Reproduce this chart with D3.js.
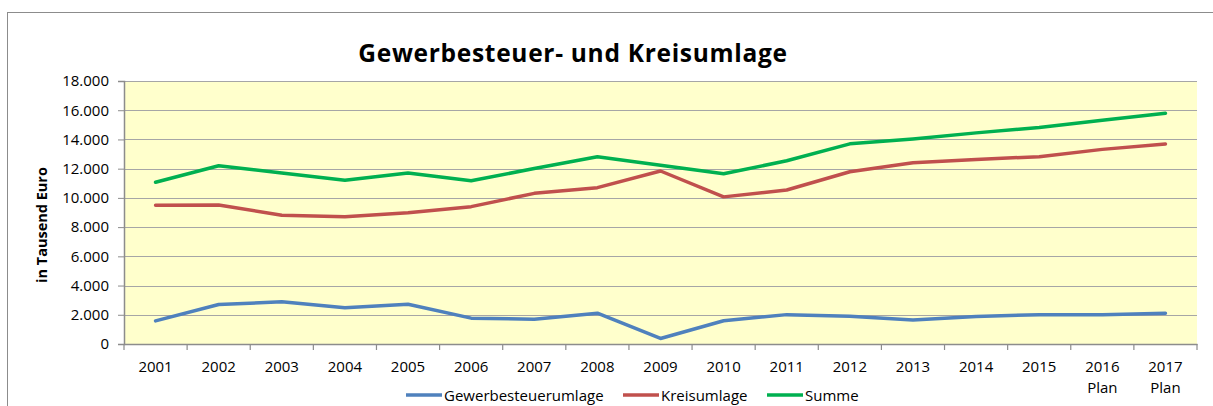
<!DOCTYPE html>
<html lang="de">
<head>
    <meta charset="UTF-8">
    <title>Gewerbesteuer- und Kreisumlage</title>
    <script src="https://d3js.org/d3.v7.min.js"></script>
    <style>
        body { margin: 0; background: #fff; }
        text { font-family: "Open Sans", sans-serif; fill: #000; }
    </style>
</head>
<body>
    <script>
        // data (in Tausend Euro)
        var years = ['2001', '2002', '2003', '2004', '2005', '2006', '2007', '2008', '2009',
                     '2010', '2011', '2012', '2013', '2014', '2015', '2016 Plan', '2017 Plan'];
        var gewerbesteuerumlage = [1580, 2700, 2890, 2480, 2720, 1770, 1700, 2110, 380,
                                   1590, 2010, 1900, 1640, 1880, 2010, 2000, 2110];
        var kreisumlage = [9490, 9510, 8810, 8710, 8980, 9400, 10310, 10700, 11840,
                           10070, 10540, 11790, 12400, 12630, 12820, 13320, 13690];
        var summe = [11070, 12200, 11700, 11200, 11700, 11170, 12010, 12810, 12230,
                     11650, 12540, 13700, 14030, 14450, 14820, 15320, 15790];
        var yTicks = [0, 2000, 4000, 6000, 8000, 10000, 12000, 14000, 16000, 18000];

        var series = [
            {name: 'Gewerbesteuerumlage', values: gewerbesteuerumlage, color: '#4f81bd'},
            {name: 'Kreisumlage', values: kreisumlage, color: '#c0504d'},
            {name: 'Summe', values: summe, color: '#00b050'}
        ];

        var width = 1213, height = 406;
        var plot = {left: 124, top: 81, right: 1197, bottom: 344};

        var svg = d3.select('body').append('svg')
            .attr('width', width)
            .attr('height', height);

        // outer chart frame (runs off the picture to the right and bottom)
        svg.append('rect')
            .attr('x', 7.5).attr('y', 12.5)
            .attr('width', width).attr('height', height)
            .attr('fill', 'none')
            .attr('stroke', '#8c8c8c')
            .attr('stroke-width', 1);

        var x = d3.scaleBand()
            .domain(years)
            .range([plot.left, plot.right]);

        var y = d3.scaleLinear()
            .domain([0, 18000])
            .range([plot.bottom, plot.top]);

        // plot background
        svg.append('rect')
            .attr('x', plot.left).attr('y', plot.top)
            .attr('width', plot.right - plot.left)
            .attr('height', plot.bottom - plot.top)
            .attr('fill', '#ffffcc');

        // gridlines
        svg.append('g')
            .selectAll('line')
            .data(yTicks.filter(function (d) { return d > 0; }))
            .enter()
            .append('line')
            .attr('x1', plot.left).attr('x2', plot.right)
            .attr('y1', function (d) { return Math.round(y(d)) + 0.5; })
            .attr('y2', function (d) { return Math.round(y(d)) + 0.5; })
            .attr('stroke', '#a6a6a6')
            .attr('stroke-width', 1.2);

        // y axis
        var fmt = function (d) { return d3.format(',')(d).replace(/,/g, '.'); };
        var yAxis = svg.append('g')
            .attr('transform', 'translate(' + plot.left + ',0)')
            .call(d3.axisLeft(y).tickValues(yTicks).tickFormat(fmt).tickSize(6).tickPadding(9));
        yAxis.select('.domain').attr('stroke', '#8c8c8c').attr('stroke-width', 1.5);
        yAxis.selectAll('.tick line').attr('stroke', '#8c8c8c');
        yAxis.selectAll('.tick text')
            .style('font-family', '"Open Sans", sans-serif')
            .style('font-size', '15px');

        // x axis
        var xAxis = svg.append('g')
            .attr('transform', 'translate(0,' + plot.bottom + ')')
            .call(d3.axisBottom(x).tickSize(0).tickPadding(0).tickFormat(''));
        xAxis.select('.domain').attr('stroke', '#8c8c8c').attr('stroke-width', 1.5);
        xAxis.selectAll('.tick').remove();

        // tick marks between categories
        xAxis.selectAll('line.sep')
            .data(years.concat(['end']))
            .enter()
            .append('line')
            .attr('class', 'sep')
            .attr('x1', function (d, i) { return i < years.length ? x(d) : x(years[years.length - 1]) + x.bandwidth(); })
            .attr('x2', function (d, i) { return i < years.length ? x(d) : x(years[years.length - 1]) + x.bandwidth(); })
            .attr('y1', 0).attr('y2', 6)
            .attr('stroke', '#8c8c8c')
            .attr('stroke-width', 1.2);

        // category labels (some on two lines)
        var labels = svg.append('g').selectAll('text')
            .data(years)
            .enter()
            .append('text')
            .attr('x', function (d) { return x(d) + x.bandwidth() / 2; })
            .attr('y', 372)
            .attr('text-anchor', 'middle')
            .style('font-size', '15px');
        labels.each(function (d) {
            var parts = d.split(' ');
            var t = d3.select(this);
            parts.forEach(function (p, i) {
                t.append('tspan')
                    .attr('x', t.attr('x'))
                    .attr('dy', i === 0 ? 0 : 21)
                    .text(p);
            });
        });

        // lines
        var line = d3.line()
            .x(function (d, i) { return x(years[i]) + x.bandwidth() / 2; })
            .y(function (d) { return y(d); });

        svg.append('g')
            .selectAll('path')
            .data(series)
            .enter()
            .append('path')
            .attr('d', function (d) { return line(d.values); })
            .attr('fill', 'none')
            .attr('stroke', function (d) { return d.color; })
            .attr('stroke-width', 3.5)
            .attr('stroke-linejoin', 'round')
            .attr('stroke-linecap', 'round');

        // title
        svg.append('text')
            .attr('x', 573)
            .attr('y', 62)
            .attr('text-anchor', 'middle')
            .style('font-size', '24.5px')
            .style('letter-spacing', '0.7px')
            .style('font-weight', 'bold')
            .text('Gewerbesteuer- und Kreisumlage');

        // y axis title
        svg.append('text')
            .attr('transform', 'translate(47,225) rotate(-90)')
            .attr('text-anchor', 'middle')
            .style('font-size', '14.5px')
            .style('font-weight', 'bold')
            .text('in Tausend Euro');

        // legend
        var legendX = [406, 623, 767];
        var legend = svg.append('g').selectAll('g')
            .data(series)
            .enter()
            .append('g')
            .attr('transform', function (d, i) { return 'translate(' + legendX[i] + ',395)'; });
        legend.append('line')
            .attr('x1', 0).attr('x2', 36)
            .attr('y1', 0).attr('y2', 0)
            .attr('stroke', function (d) { return d.color; })
            .attr('stroke-width', 3.5);
        legend.append('text')
            .attr('x', 38)
            .attr('y', 5.5)
            .style('font-size', '15px')
            .text(function (d) { return d.name; });
    </script>
</body>
</html>
